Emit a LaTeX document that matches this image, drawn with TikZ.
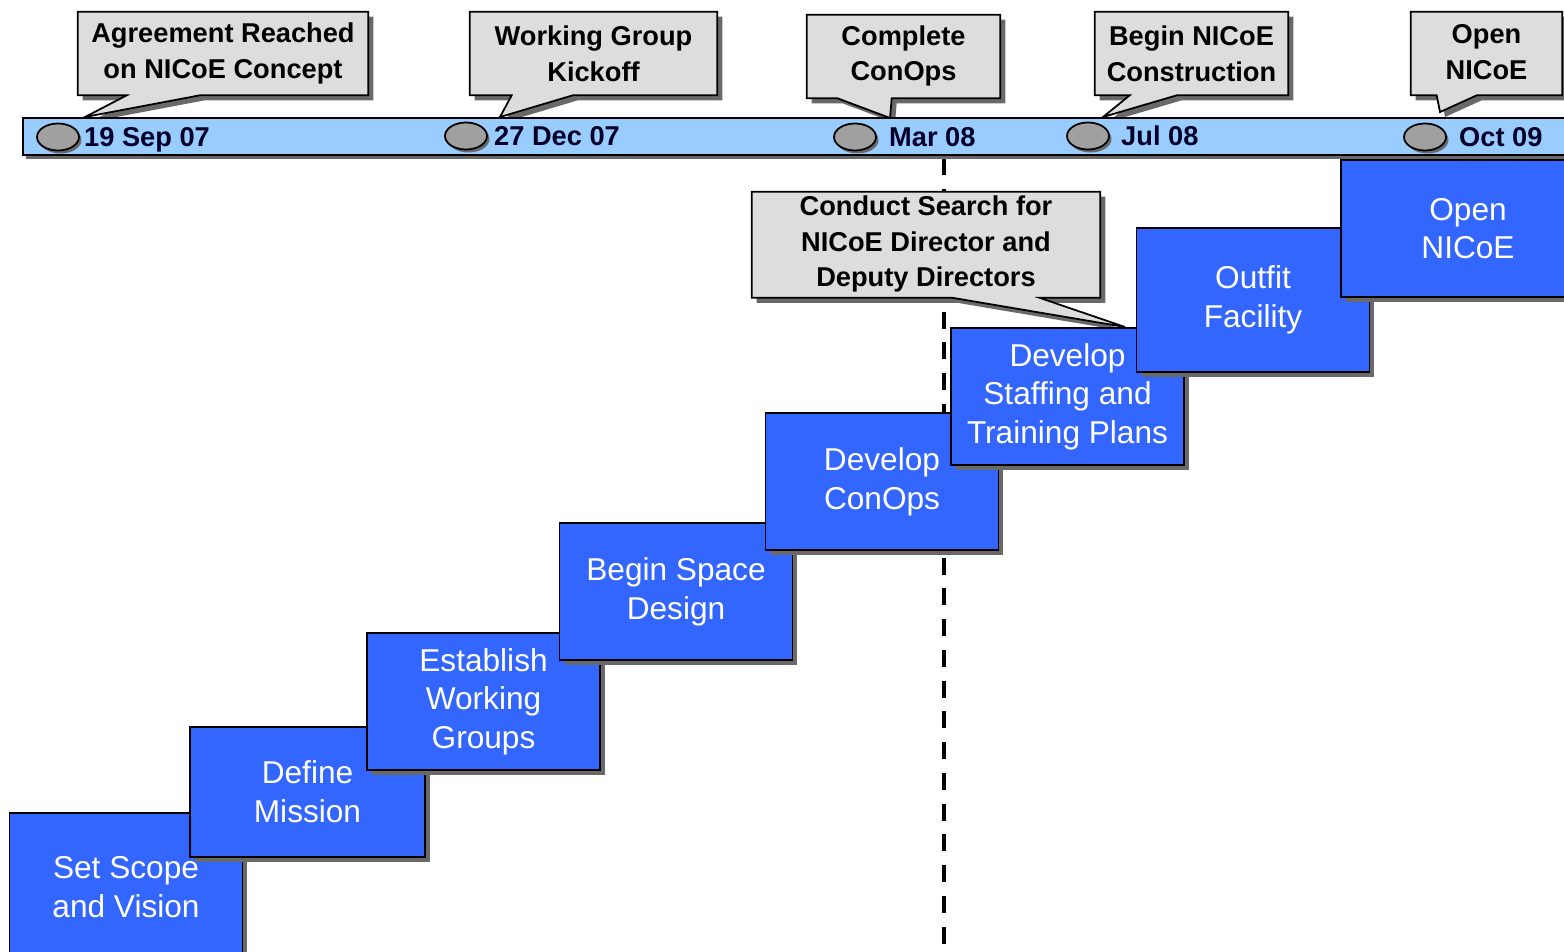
\documentclass[tikz,border=0pt]{standalone}
\usepackage{fontspec}
\setmainfont{Liberation Sans}
\usetikzlibrary{positioning,shapes.geometric,shadows,backgrounds,calc}
\definecolor{barblue}{RGB}{153,204,255}
\definecolor{stepblue}{RGB}{51,102,255}
\definecolor{notegray}{RGB}{221,221,221}
\definecolor{dotgray}{RGB}{160,160,160}
\definecolor{shade}{RGB}{105,105,105}
\definecolor{datenavy}{RGB}{0,0,40}
\tikzset{
  boxshadow/.style={drop shadow={shadow xshift=0.1cm, shadow yshift=-0.1cm, fill=shade, opacity=1}},
  stepbox/.style={draw=black, line width=1pt, fill=stepblue, text=white, align=center, inner sep=0pt,
    minimum width=4.66cm, minimum height=2.74cm, font=\fontsize{18}{22}\selectfont, boxshadow},
  note/.style={align=center, inner sep=0pt, font=\fontsize{15.5}{20.4}\selectfont\bfseries},
  noteshape/.style={draw=black, line width=1pt, fill=notegray, boxshadow},
  timebar/.style={draw=black, line width=1pt, fill=barblue, inner sep=0pt,
    drop shadow={shadow xshift=0.06cm, shadow yshift=-0.08cm, fill=shade, opacity=1}},
  milestone/.style={ellipse, draw=black, line width=1pt, fill=dotgray, minimum width=0.84cm,
    minimum height=0.54cm, inner sep=0pt,
    drop shadow={shadow xshift=0.05cm, shadow yshift=-0.06cm, fill=shade, opacity=1}},
  datelabel/.style={inner sep=0pt, text height=11pt, text depth=0pt, text=datenavy,
    font=\fontsize{15.5}{18}\selectfont\bfseries},
  cutline/.style={draw=black, line width=2.4pt, dash pattern=on 9.6pt off 7.9pt},
}
\begin{document}
\begin{tikzpicture}[x=0.02cm, y=-0.02cm]
  \useasboundingbox (0,0) rectangle (1564,951);
  \clip (0,0) rectangle (1564,951);

  % time line
  \node[timebar, minimum width=31.54cm, minimum height=0.74cm] (timeline) at (811.5,136.5) {};
  \node[milestone] (sep07) at (58,137) {};
  \node[datelabel, right=0.08cm of sep07] (sep07 label) {19 Sep 07};
  \node[milestone] (dec07) at (466,136) {};
  \node[datelabel, right=0.12cm of dec07] (dec07 label) {27 Dec 07};
  \node[milestone] (mar08) at (855,137) {};
  \node[datelabel, right=0.24cm of mar08] (mar08 label) {Mar 08};
  \node[milestone] (jul08) at (1088,136) {};
  \node[datelabel, right=0.22cm of jul08] (jul08 label) {Jul 08};
  \node[milestone] (oct09) at (1425,137) {};
  \node[datelabel, right=0.24cm of oct09] (oct09 label) {Oct 09};

  % callouts
  \node[note, minimum width=5.8cm, minimum height=1.66cm] (agree) at (223,53.5) {Agreement Reached\\on NICoE Concept};
  \coordinate (agree tip) at (85,117);
  \node[note, minimum width=4.94cm, minimum height=1.66cm] (kickoff) at (593.5,53.5) {Working Group\\Kickoff};
  \coordinate (kickoff tip) at (500,117);
  \node[note, minimum width=3.86cm, minimum height=1.64cm] (complete) at (903.5,56) {Complete\\ConOps};
  \coordinate (complete tip) at (890,118);
  \node[note, minimum width=3.86cm, minimum height=1.66cm] (build) at (1191.5,53.5) {Begin NICoE\\Construction};
  \coordinate (build tip) at (1103,117);
  \node[note, minimum width=3.02cm, minimum height=1.66cm] (opening) at (1486.5,52) {Open\\NICoE};
  \coordinate (opening tip) at (1440,112);
  \node[note, minimum width=6.96cm, minimum height=2.08cm] (search) at (926,244) {Conduct Search for\\NICoE Director and\\Deputy Directors};
  \coordinate (search tip) at (1125,327);

  \begin{scope}[on background layer]
    \coordinate (cut top) at (944,158);
    \coordinate (cut bottom) at (944,951);
    \draw[cutline] (cut top) -- (cut bottom);

    \draw[noteshape] (agree.south west) -- (agree.north west) -- (agree.north east) -- (agree.south east)
      -- ($(agree.south west)+(122,0)$) -- (agree tip) -- ($(agree.south west)+(49,0)$) -- cycle;
    \draw[noteshape] (kickoff.south west) -- (kickoff.north west) -- (kickoff.north east) -- (kickoff.south east)
      -- ($(kickoff.south west)+(103,0)$) -- (kickoff tip) -- ($(kickoff.south west)+(42,0)$) -- cycle;
    \draw[noteshape] ([yshift=-0.02cm]complete.south west) -- (complete.north west) -- (complete.north east) -- ([yshift=-0.02cm]complete.south east)
      -- ($([yshift=-0.02cm]complete.south west)+(85,0)$) -- (complete tip) -- ($([yshift=-0.02cm]complete.south west)+(31,0)$) -- cycle;
    \draw[noteshape] (build.south west) -- (build.north west) -- (build.north east) -- (build.south east)
      -- ($(build.south west)+(82,0)$) -- (build tip) -- ($(build.south west)+(35,0)$) -- cycle;
    \draw[noteshape] ([yshift=-0.03cm]opening.south west) -- ([yshift=-0.03cm]opening.north west) -- ([yshift=-0.03cm]opening.north east) -- ([yshift=-0.03cm]opening.south east)
      -- ($([yshift=-0.03cm]opening.south west)+(66,0)$) -- (opening tip) -- ($([yshift=-0.03cm]opening.south west)+(26,0)$) -- cycle;
    \draw[noteshape] ([yshift=-0.03cm]search.south west) -- (search.north west) -- (search.north east) -- ([yshift=-0.03cm]search.south east)
      -- ($([yshift=-0.03cm]search.south west)+(288,0)$) -- (search tip) -- ($([yshift=-0.03cm]search.south west)+(201,0)$) -- cycle;
  \end{scope}

  % steps
  \node[stepbox, minimum height=2.96cm] (scope) at (126,887) {Set Scope\\and Vision};
  \node[stepbox, minimum width=4.7cm, minimum height=2.6cm] (mission) at (307.5,792) {Define\\Mission};
  \node[stepbox] (groups) at (483.5,701.5) {Establish\\Working\\Groups};
  \node[stepbox] (space) at (676,591.5) {Begin Space\\Design};
  \node[stepbox] (conops) at (882,481.5) {Develop\\ConOps};
  \node[stepbox] (staffing) at (1067.5,396.5) {Develop\\Staffing and\\Training Plans};
  \node[stepbox, minimum height=2.88cm] (outfit) at (1253,300) {Outfit\\Facility};
  \node[stepbox, minimum width=5.08cm] (open) at (1468,228.5) {Open\\NICoE};
\end{tikzpicture}
\end{document}
